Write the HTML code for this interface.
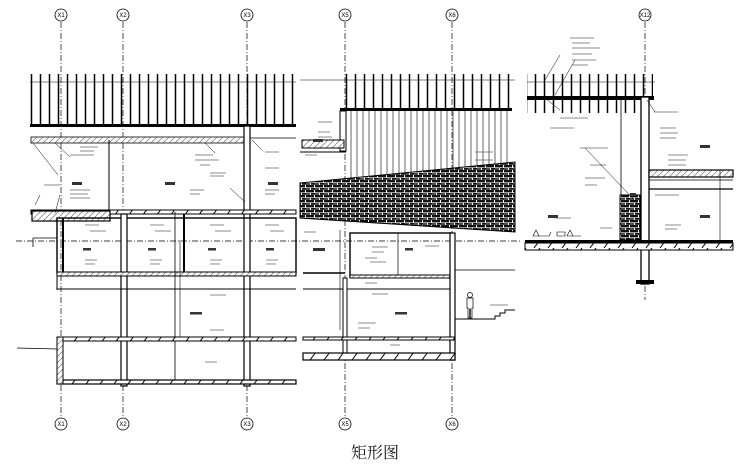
<!DOCTYPE html>
<html><head><meta charset="utf-8"><style>
html,body{margin:0;padding:0;background:#fff;width:750px;height:469px;overflow:hidden}
svg{display:block}
</style></head><body>
<svg width="750" height="469" viewBox="0 0 750 469" xmlns="http://www.w3.org/2000/svg">
<defs>
<pattern id="fin" x="0" y="0" width="9" height="60" patternUnits="userSpaceOnUse">
<line x1="4.5" y1="0" x2="4.5" y2="60" stroke="#000" stroke-width="1.5"/>
</pattern>
<pattern id="hang" x="0" y="0" width="6" height="10" patternUnits="userSpaceOnUse">
<line x1="3" y1="0" x2="3" y2="10" stroke="#222" stroke-width="0.7"/>
</pattern>
<pattern id="tile" x="0" y="0" width="9" height="5" patternUnits="userSpaceOnUse">
<rect width="9" height="5" fill="#fff"/>
<rect x="0" y="0" width="8" height="2.4" fill="#111"/>
<rect x="0" y="3.2" width="4" height="1.6" fill="#222"/>
<rect x="5" y="3" width="4" height="1.8" fill="#111"/>
</pattern>
<pattern id="hatch" width="6" height="6" patternUnits="userSpaceOnUse">
<rect width="6" height="6" fill="#fff"/><line x1="0" y1="6" x2="6" y2="0" stroke="#555" stroke-width="0.6"/>
</pattern>
<pattern id="slabh" width="14" height="8" patternUnits="userSpaceOnUse">
<rect width="14" height="8" fill="#fff"/><line x1="2" y1="8" x2="8" y2="0" stroke="#000" stroke-width="1"/>
</pattern>
</defs>

<g fill="none" stroke="#000" stroke-width="0.7" stroke-dasharray="6,2,1,2">
<line x1="61" y1="22" x2="61" y2="418"/>
<line x1="123" y1="22" x2="123" y2="418"/>
<line x1="247" y1="22" x2="247" y2="418"/>
<line x1="345" y1="22" x2="345" y2="418"/>
<line x1="452" y1="22" x2="452" y2="418"/>
<line x1="645" y1="22" x2="645" y2="300"/>
<line x1="16" y1="241" x2="520" y2="241"/>
</g>
<g fill="#fff" stroke="#000" stroke-width="0.8">
<circle cx="61" cy="15" r="6"/><circle cx="123" cy="15" r="6"/><circle cx="247" cy="15" r="6"/>
<circle cx="345" cy="15" r="6"/><circle cx="452" cy="15" r="6"/><circle cx="645" cy="15" r="6"/>
<circle cx="61" cy="424" r="6"/><circle cx="123" cy="424" r="6"/><circle cx="247" cy="424" r="6"/>
<circle cx="345" cy="424" r="6"/><circle cx="452" cy="424" r="6"/>
</g>
<g font-family="Liberation Sans, sans-serif" font-size="6" text-anchor="middle" fill="#000">
<text x="61" y="17">X1</text><text x="123" y="17">X2</text><text x="247" y="17">X3</text>
<text x="345" y="17">X5</text><text x="452" y="17">X6</text><text x="645" y="17">X12</text>
<text x="61" y="426">X1</text><text x="123" y="426">X2</text><text x="247" y="426">X3</text>
<text x="345" y="426">X5</text><text x="452" y="426">X6</text>
</g>

<!-- LEFT PANEL -->
<rect x="30" y="74" width="266" height="52" fill="url(#fin)"/>
<line x1="30" y1="82" x2="296" y2="82" stroke="#000" stroke-width="0.6"/>
<rect x="30" y="124" width="266" height="3" fill="#000"/>
<rect x="31" y="137" width="213" height="6" fill="url(#hatch)" stroke="#000" stroke-width="0.8"/>
<line x1="250" y1="138" x2="296" y2="138" stroke="#000" stroke-width="0.8"/>
<rect x="244" y="126" width="6" height="260" fill="#fff" stroke="#000" stroke-width="1.2"/>
<line x1="109" y1="140" x2="109" y2="212" stroke="#000" stroke-width="1"/>
<rect x="31" y="210" width="265" height="4" fill="url(#slabh)" stroke="#000" stroke-width="1"/>
<rect x="32" y="211" width="78" height="10" fill="url(#hatch)" stroke="#000" stroke-width="1.2"/>
<rect x="57" y="218" width="239" height="55" fill="none" stroke="#000" stroke-width="1.4"/>
<rect x="121" y="214" width="6" height="172" fill="#fff" stroke="#000" stroke-width="1.2"/>
<line x1="184" y1="214" x2="184" y2="273" stroke="#000" stroke-width="2"/>
<line x1="63" y1="218" x2="63" y2="272" stroke="#000" stroke-width="2"/>
<rect x="57" y="272" width="239" height="4" fill="url(#hatch)" stroke="#000" stroke-width="1"/>
<line x1="57" y1="276" x2="57" y2="290" stroke="#000" stroke-width="1"/>
<line x1="57" y1="289" x2="296" y2="289" stroke="#000" stroke-width="1"/>
<line x1="175" y1="212" x2="175" y2="383" stroke="#000" stroke-width="0.8"/>
<line x1="180" y1="240" x2="180" y2="338" stroke="#000" stroke-width="0.6"/>
<rect x="57" y="337" width="239" height="4" fill="url(#slabh)" stroke="#000" stroke-width="1"/>
<rect x="57" y="380" width="239" height="4" fill="url(#slabh)" stroke="#000" stroke-width="1.2"/>
<rect x="57" y="337" width="6" height="47" fill="url(#hatch)" stroke="#000" stroke-width="1"/>
<line x1="17" y1="348" x2="57" y2="349" stroke="#000" stroke-width="0.8"/>
<line x1="33" y1="238" x2="57" y2="238" stroke="#000" stroke-width="0.8"/>
<line x1="33" y1="238" x2="33" y2="247" stroke="#000" stroke-width="0.8"/>

<!-- MIDDLE PANEL -->
<line x1="300" y1="80" x2="515" y2="80" stroke="#000" stroke-width="0.6"/>
<rect x="340" y="74" width="172" height="36" fill="url(#fin)"/>
<rect x="340" y="108" width="172" height="3" fill="#000"/>
<polygon points="348,111 512,111 512,165 348,182" fill="url(#hang)"/>
<polygon points="300,183 515,162 515,232 300,218" fill="url(#tile)" stroke="#000" stroke-width="1"/>
<rect x="340" y="111" width="6" height="40" fill="#fff" stroke="#000" stroke-width="1"/>
<rect x="302" y="140" width="42" height="8" fill="url(#hatch)" stroke="#000" stroke-width="1"/>
<line x1="300" y1="152" x2="346" y2="152" stroke="#000" stroke-width="1"/>
<rect x="350" y="233" width="102" height="44" fill="none" stroke="#000" stroke-width="1.4"/>
<rect x="350" y="275" width="104" height="3" fill="url(#hatch)" stroke="#000" stroke-width="1"/>
<line x1="303" y1="273" x2="345" y2="273" stroke="#000" stroke-width="1.5"/>
<line x1="455" y1="270" x2="515" y2="270" stroke="#000" stroke-width="0.8"/>
<line x1="303" y1="289" x2="452" y2="289" stroke="#000" stroke-width="1"/>
<rect x="343" y="278" width="4" height="82" fill="#fff" stroke="#000" stroke-width="1"/>
<rect x="450" y="233" width="5" height="127" fill="#fff" stroke="#000" stroke-width="1.2"/>
<line x1="340" y1="230" x2="340" y2="330" stroke="#000" stroke-width="0.6"/>
<rect x="303" y="337" width="152" height="3" fill="url(#slabh)" stroke="#000" stroke-width="1"/>
<rect x="303" y="353" width="152" height="7" fill="url(#slabh)" stroke="#000" stroke-width="1.2"/>
<line x1="398" y1="233" x2="398" y2="275" stroke="#000" stroke-width="0.7"/>
<g stroke="#000" stroke-width="0.7" fill="#fff">
<circle cx="470" cy="295" r="2.5"/>
<path d="M467 298 h6 v10 h-1 v10 h-1.5 v-9 h-1 v9 h-1.5 v-10 h-1z"/>
</g>
<polyline points="455,319 495,319 495,316 500,316 500,313 505,313 505,310 515,310" fill="none" stroke="#000" stroke-width="1"/>

<!-- RIGHT PANEL -->
<rect x="527" y="74" width="126" height="24" fill="url(#fin)"/>
<rect x="527" y="99" width="120" height="14" fill="url(#fin)"/>
<rect x="527" y="96" width="127" height="4" fill="#000"/>
<line x1="527" y1="82" x2="655" y2="82" stroke="#000" stroke-width="0.6"/>
<rect x="641" y="97" width="8" height="187" fill="#fff" stroke="#000" stroke-width="1.3"/>
<line x1="621" y1="100" x2="621" y2="195" stroke="#000" stroke-width="0.8"/>
<rect x="620" y="195" width="20" height="45" fill="url(#tile)" stroke="#000" stroke-width="1"/>
<rect x="649" y="170" width="84" height="7" fill="url(#hatch)" stroke="#000" stroke-width="1.2"/>
<line x1="649" y1="180" x2="733" y2="180" stroke="#000" stroke-width="0.7"/>
<line x1="649" y1="189" x2="733" y2="189" stroke="#000" stroke-width="1.2"/>
<rect x="525" y="240" width="208" height="3" fill="#000"/>
<rect x="525" y="243" width="208" height="7" fill="url(#slabh)" stroke="#000" stroke-width="1"/>
<rect x="636" y="280" width="18" height="4" fill="#000"/>
<line x1="720" y1="170" x2="720" y2="240" stroke="#000" stroke-width="0.6"/>
<g stroke="#000" stroke-width="0.6" fill="none">
<path d="M533 236 l3 -6 l3 6 z M535 236 h14 M549 236 l2 -4"/><path d="M557 236 h8 v-4 h-8z"/><path d="M567 236 l3 -6 l3 6 M567 236 h14"/>
</g>

<g fill="#333">
<rect x="72" y="182" width="10" height="3"/><rect x="165" y="182" width="10" height="3"/><rect x="268" y="182" width="10" height="3"/>
<rect x="83" y="248" width="8" height="2.5"/><rect x="148" y="248" width="8" height="2.5"/><rect x="208" y="248" width="8" height="2.5"/><rect x="266" y="248" width="8" height="2.5"/>
<rect x="190" y="312" width="12" height="2.5"/><rect x="395" y="312" width="12" height="2.5"/><rect x="313" y="248" width="12" height="3"/><rect x="405" y="248" width="8" height="2.5"/>
<rect x="313" y="139" width="10" height="3"/><rect x="548" y="215" width="10" height="3"/><rect x="700" y="145" width="10" height="3"/><rect x="700" y="215" width="10" height="3"/><rect x="630" y="193" width="6" height="3"/>
</g>
<g stroke="#666" stroke-width="0.8">
<path d="M80 147h18M80 151h14M70 155h24M44 185h16M70 190h20M70 194h18M70 198h20"/>
<path d="M195 155h18M195 160h24M200 165h10M210 173h16M210 176h14M190 190h14M190 194h10M265 152h14M265 168h14M265 190h14M265 194h10"/>
<path d="M85 225h14M90 231h16M150 225h14M155 231h16M210 225h14M215 231h16M265 225h14M270 231h14"/>
<path d="M85 260h12M85 264h10M150 260h12M150 264h10M210 260h12M210 264h10M266 260h12M266 264h10M210 295h16M210 330h14M205 362h12"/>
<path d="M318 122h14M318 132h12M318 137h14M305 155h12M475 152h18M475 160h18M304 232h12M372 247h16M372 252h12M425 246h14M365 258h12M370 262h16M365 283h12M372 294h16M358 323h18M358 328h12M390 345h10M490 305h18"/>
<path d="M570 38h24M572 43h18M572 48h28M572 54h20M572 60h24M572 65h16M560 118h28M550 128h24M580 148h28M590 165h16M585 178h20M585 185h12M654 112h24M660 128h16M660 133h18M660 138h16M668 155h20M668 160h18M668 165h18M655 195h24M555 218h16M600 228h12M665 225h16M665 229h12"/>
</g>
<g stroke="#000" stroke-width="0.5" fill="none">
<path d="M33 143 l25 32 M55 143 l15 14 M205 143 l10 10 M252 140 l10 10 M230 188 l15 14 M40 195 l-5 10 M60 195 l-5 18 M560 55 l-15 25 M575 60 l-20 35 M560 110 l-15 -12 M585 148 l55 58 M655 112 l-8 -12"/>
</g>

<text x="375" y="458" font-family="Liberation Serif, 'Noto Serif CJK SC', serif" font-size="16" text-anchor="middle" fill="#111">矩形图</text>
</svg>
</body></html>
